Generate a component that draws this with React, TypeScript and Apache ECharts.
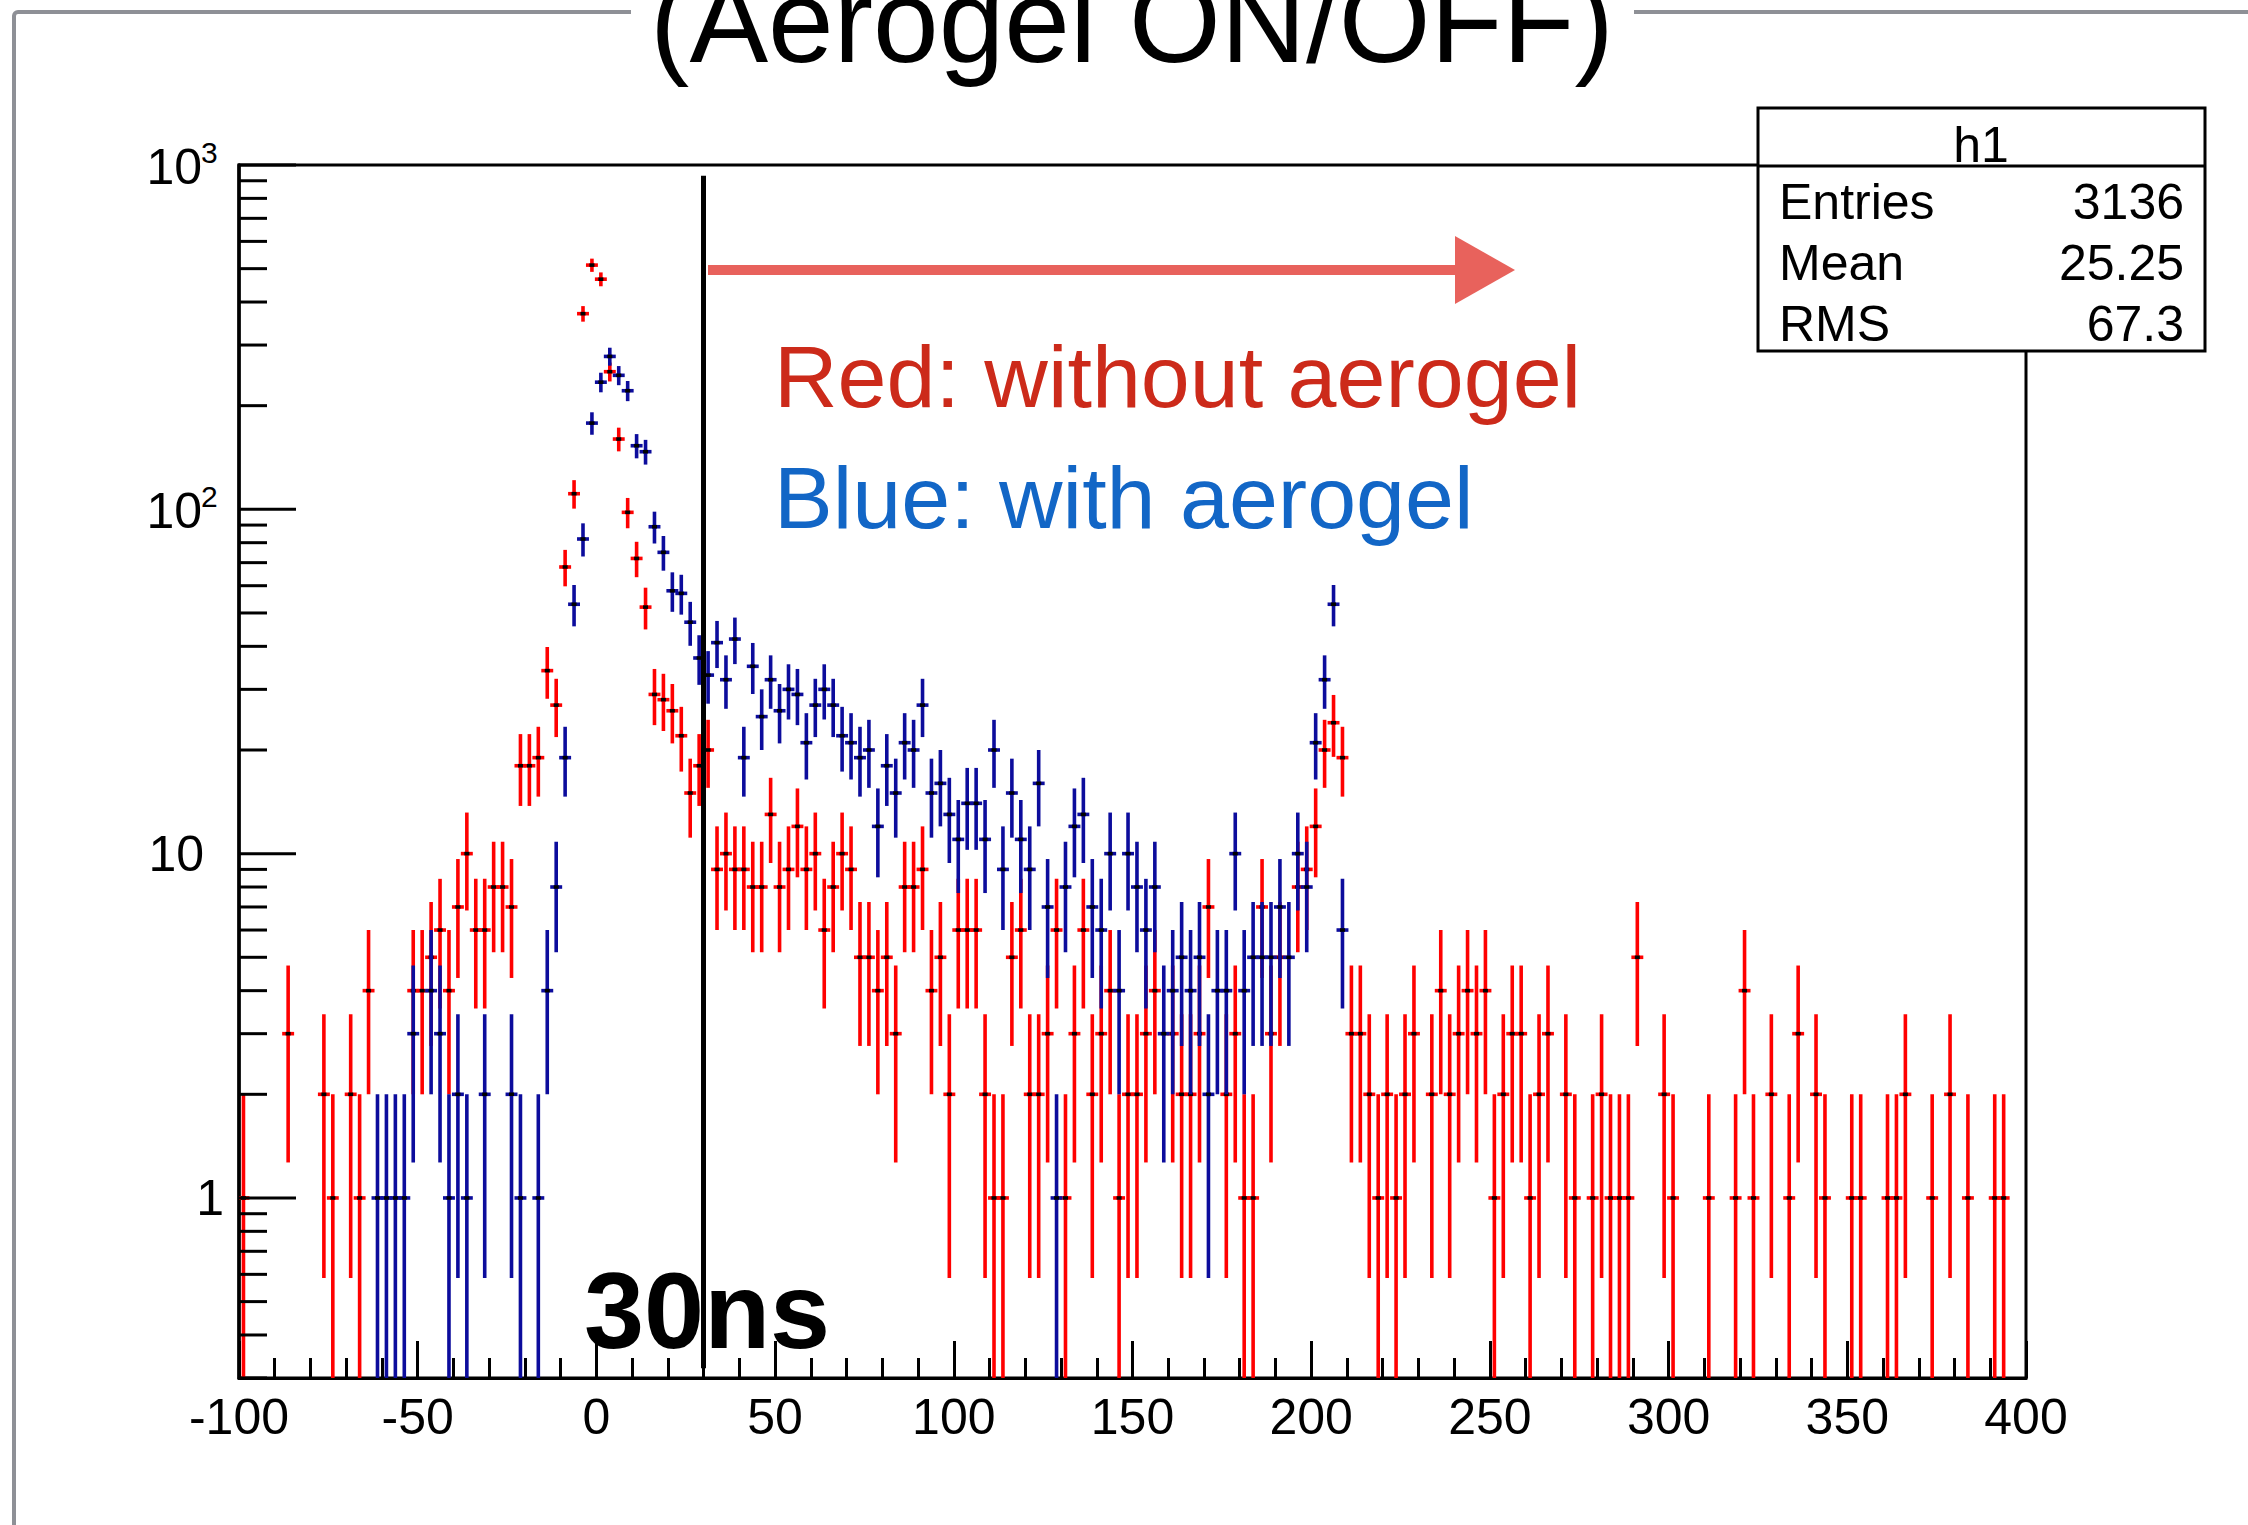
import React, { useEffect, useRef } from 'react';
import * as echarts from 'echarts';

// Histogram binning: 200 bins of 2.5 ns between -100 and 400 ns
const X_MIN = -100;
const X_MAX = 400;
const BIN_WIDTH = 2.5;
const Y_MIN = 0.3;
const Y_MAX = 1000;
const CUT_NS = 30;

// Counts per bin, without aerogel (h1)
const redCounts = [
  1, 0, 0, 0, 0, 3, 0, 0, 0, 2, 1, 0, 2, 1, 4, 0, 0, 0, 0, 4,
  4, 5, 6, 4, 7, 10, 6, 6, 8, 8, 7, 18, 18, 19, 34, 27, 68, 111, 370, 512,
  466, 251, 160, 98, 72, 52, 29, 28, 26, 22, 15, 18, 20, 9, 10, 9, 9, 8, 8, 13,
  8, 9, 12, 9, 10, 6, 8, 10, 9, 5, 5, 4, 5, 3, 8, 8, 9, 4, 5, 2,
  6, 6, 6, 2, 1, 1, 5, 6, 2, 2, 3, 6, 1, 3, 6, 2, 3, 4, 1, 2,
  2, 3, 4, 0, 3, 2, 2, 3, 7, 0, 2, 3, 1, 1, 7, 3, 5, 0, 8, 9,
  12, 20, 24, 19, 3, 3, 2, 1, 2, 1, 2, 3, 0, 2, 4, 2, 3, 4, 3, 4,
  1, 2, 3, 3, 1, 2, 3, 0, 2, 1, 0, 1, 2, 1, 1, 1, 5, 0, 0, 2,
  1, 0, 0, 0, 1, 0, 0, 1, 4, 1, 0, 2, 0, 1, 3, 0, 2, 1, 0, 0,
  1, 1, 0, 0, 1, 1, 2, 0, 0, 1, 0, 2, 0, 1, 0, 0, 1, 1, 0, 0,
];

// Counts per bin, with aerogel
const blueCounts = [
  0, 0, 0, 0, 0, 0, 0, 0, 0, 0, 0, 0, 0, 0, 0, 1, 1, 1, 1, 3,
  0, 4, 3, 1, 2, 1, 0, 2, 0, 0, 2, 1, 0, 1, 4, 8, 19, 53, 82, 178,
  234, 278, 245, 221, 153, 147, 89, 75, 58, 57, 47, 37, 33, 41, 32, 42, 19, 35, 25, 32,
  26, 30, 29, 21, 27, 30, 27, 22, 21, 19, 20, 12, 18, 15, 21, 20, 27, 15, 16, 13,
  11, 14, 14, 11, 20, 9, 15, 11, 9, 16, 7, 1, 8, 12, 13, 7, 6, 10, 4, 10,
  8, 6, 8, 3, 4, 5, 4, 5, 2, 4, 4, 10, 4, 5, 5, 5, 7, 5, 10, 8,
  21, 32, 53, 6, 0, 0, 0, 0, 0, 0, 0, 0, 0, 0, 0, 0, 0, 0, 0, 0,
  0, 0, 0, 0, 0, 0, 0, 0, 0, 0, 0, 0, 0, 0, 0, 0, 0, 0, 0, 0,
  0, 0, 0, 0, 0, 0, 0, 0, 0, 0, 0, 0, 0, 0, 0, 0, 0, 0, 0, 0,
  0, 0, 0, 0, 0, 0, 0, 0, 0, 0, 0, 0, 0, 0, 0, 0, 0, 0, 0, 0,
];

// Log-axis labels: base text and exponent
const yLabelValues = [1, 10, 100, 1000];
const yLabelBases = ['1', '10', '10', '10'];
const yLabelExps = ['', '', '2', '3'];

// Stats box rows
const statNames = ['Entries', 'Mean', 'RMS'];
const statValues = ['3136', '25.25', '67.3'];

const FONT = '"Liberation Sans", Arial, Helvetica, sans-serif';
const RED = '#ff0000';
const BLUE = '#0c0c9c';
const BAR_WIDTH = 3.6;

const binCenter = (i: number) => X_MIN + BIN_WIDTH * (i + 0.5);
const toPoints = (counts: number[]) =>
  counts.map((n, i) => [binCenter(i), n]).filter((p) => p[1] > 0);

// Major ticks at every decade, minor ticks at 2..9 times each decade
const yMajorTicks = [1, 10, 100, 1000];
const yMinorTicks: number[] = [];
for (let d = 0.1; d < Y_MAX; d *= 10) {
  for (let k = 2; k <= 9; k++) {
    const v = +(k * d).toPrecision(3);
    if (v >= Y_MIN - 1e-9 && v < Y_MAX) yMinorTicks.push(v);
  }
}

function errorBarSeries(name: string, counts: number[], color: string) {
  return {
    type: 'custom',
    name,
    data: toPoints(counts),
    encode: { x: 0, y: 1 },
    clip: true,
    silent: true,
    renderItem: (_params: any, api: any) => {
      const t = api.value(0) as number;
      const n = api.value(1) as number;
      const e = Math.sqrt(n);
      const c = api.coord([t, n]);
      const top = api.coord([t, n + e])[1];
      const bot = api.coord([t, Math.max(n - e, Y_MIN)])[1];
      const xl = api.coord([t - BIN_WIDTH / 2, n])[0];
      const xr = api.coord([t + BIN_WIDTH / 2, n])[0];
      return {
        type: 'group',
        children: [
          {
            type: 'line',
            shape: { x1: c[0], y1: top, x2: c[0], y2: bot },
            style: { stroke: color, lineWidth: BAR_WIDTH },
          },
          {
            type: 'line',
            shape: { x1: xl - 1.5, y1: c[1], x2: xr + 1.5, y2: c[1] },
            style: { stroke: color, lineWidth: BAR_WIDTH },
          },
          {
            type: 'rect',
            shape: { x: c[0] - 2.5, y: c[1] - 1.8, width: 5, height: 3.6 },
            style: { fill: '#000' },
          },
        ],
      };
    },
  };
}

const midY = (baseline: number, size: number) => baseline - 0.3465 * size;

export default function App() {
  const ref = useRef<HTMLDivElement>(null);

  useEffect(() => {
    if (!ref.current) return;
    const chart = echarts.init(ref.current, undefined, { renderer: 'svg' });

    const option: any = {
      animation: false,
      backgroundColor: '#ffffff',
      grid: {
        left: 239,
        right: 222,
        top: 165,
        bottom: 147,
        show: true,
        borderColor: '#000',
        borderWidth: 3,
        backgroundColor: 'transparent',
        outerBoundsMode: 'none',
      },
      xAxis: {
        type: 'value',
        min: X_MIN,
        max: X_MAX,
        interval: 50,
        axisLine: { show: true, onZero: false, lineStyle: { color: '#000', width: 3 } },
        axisTick: { show: true, inside: true, length: 37, lineStyle: { color: '#000', width: 3 } },
        minorTick: { show: true, splitNumber: 5, length: 20, lineStyle: { color: '#000', width: 3 } },
        axisLabel: {
          fontSize: 50,
          fontFamily: FONT,
          color: '#000',
          margin: 14,
          showMinLabel: true,
          showMaxLabel: true,
        },
        splitLine: { show: false },
      },
      yAxis: {
        type: 'log',
        logBase: 10,
        min: Y_MIN,
        max: Y_MAX,
        axisLine: { show: true, onZero: false, lineStyle: { color: '#000', width: 3.5 } },
        axisTick: { show: false },
        minorTick: { show: false },
        axisLabel: { show: false },
        splitLine: { show: false },
      },
      series: [
        errorBarSeries('without aerogel', redCounts, RED),
        errorBarSeries('with aerogel', blueCounts, BLUE),
        {
          type: 'custom',
          name: 'yTicks',
          silent: true,
          clip: false,
          z: 5,
          data: [
            ...yMajorTicks.map((v) => [X_MIN, v, 1]),
            ...yMinorTicks.map((v) => [X_MIN, v, 0]),
          ],
          encode: { x: 0, y: 1 },
          renderItem: (_p: any, api: any) => {
            const p = api.coord([api.value(0), api.value(1)]);
            const len = api.value(2) ? 57 : 28;
            return {
              type: 'line',
              shape: { x1: p[0], y1: p[1], x2: p[0] + len, y2: p[1] },
              style: { stroke: '#000', lineWidth: 3 },
            };
          },
        },
        {
          type: 'custom',
          name: 'yLabels',
          silent: true,
          clip: false,
          z: 5,
          data: yLabelValues.map((v, i) => [X_MIN, v, i]),
          encode: { x: 0, y: 1 },
          renderItem: (_p: any, api: any) => {
            const idx = api.value(2) as number;
            const p = api.coord([api.value(0), api.value(1)]);
            const base = yLabelBases[idx];
            const exp = yLabelExps[idx];
            const children: any[] = [];
            if (exp) {
              children.push({
                type: 'text',
                x: p[0] - 37,
                y: p[1] + 2,
                style: { text: base, fontSize: 50, fontFamily: FONT, fill: '#000', align: 'right', verticalAlign: 'middle' },
              });
              children.push({
                type: 'text',
                x: p[0] - 38,
                y: p[1] - 13,
                style: { text: exp, fontSize: 30, fontFamily: FONT, fill: '#000', align: 'left', verticalAlign: 'middle' },
              });
            } else {
              children.push({
                type: 'text',
                x: p[0] - (base.length === 1 ? 15 : 35),
                y: p[1],
                style: { text: base, fontSize: 50, fontFamily: FONT, fill: '#000', align: 'right', verticalAlign: 'middle' },
              });
            }
            return { type: 'group', children };
          },
        },
        {
          type: 'line',
          name: 'cut',
          data: [],
          silent: true,
          z: 8,
          markLine: {
            silent: true,
            symbol: ['none', 'none'],
            label: { show: false },
            lineStyle: { color: '#000', width: 5, type: 'solid' },
            data: [[{ coord: [CUT_NS, 930] }, { coord: [CUT_NS, 0.32] }]],
          },
        },
      ],
      graphic: [
        // slide frame
        {
          type: 'rect',
          z: 0,
          silent: true,
          shape: { x: 14, y: 12, width: 2400, height: 1700, r: 4 },
          style: { fill: 'none', stroke: '#8e9096', lineWidth: 4 },
        },
        {
          type: 'rect',
          z: 1,
          silent: true,
          shape: { x: 631, y: 0, width: 1003, height: 40 },
          style: { fill: '#fff' },
        },
        {
          type: 'text',
          z: 2,
          silent: true,
          x: 1132,
          y: midY(62, 118),
          style: { text: '(Aerogel ON/OFF)', fontSize: 118, fontFamily: FONT, fill: '#000', align: 'center', verticalAlign: 'middle' },
        },
        // stats box
        {
          type: 'group',
          z: 50,
          silent: true,
          children: [
            {
              type: 'rect',
              shape: { x: 1758, y: 108, width: 447, height: 243 },
              style: { fill: '#fff', stroke: '#000', lineWidth: 3 },
            },
            {
              type: 'line',
              shape: { x1: 1758, y1: 166, x2: 2205, y2: 166 },
              style: { stroke: '#000', lineWidth: 3 },
            },
            {
              type: 'text',
              x: 1981,
              y: midY(162, 50),
              style: { text: 'h1', fontSize: 50, fontFamily: FONT, fill: '#000', align: 'center', verticalAlign: 'middle' },
            },
            ...statNames.map((s, i) => ({
              type: 'text',
              x: 1779,
              y: midY(219 + 61 * i, 50),
              style: { text: s, fontSize: 50, fontFamily: FONT, fill: '#000', align: 'left', verticalAlign: 'middle' },
            })),
            ...statValues.map((s, i) => ({
              type: 'text',
              x: 2184,
              y: midY(219 + 61 * i, 50),
              style: { text: s, fontSize: 50, fontFamily: FONT, fill: '#000', align: 'right', verticalAlign: 'middle' },
            })),
          ],
        },
        // arrow pointing past the cut
        {
          type: 'line',
          z: 40,
          silent: true,
          shape: { x1: 708, y1: 270, x2: 1462, y2: 270 },
          style: { stroke: '#e8625c', lineWidth: 10 },
        },
        {
          type: 'polygon',
          z: 40,
          silent: true,
          shape: { points: [[1455, 236], [1515, 270], [1455, 304]] },
          style: { fill: '#e8625c' },
        },
        {
          type: 'text',
          z: 40,
          silent: true,
          x: 774,
          y: midY(407, 88),
          style: { text: 'Red: without aerogel', fontSize: 88, fontFamily: FONT, fill: '#cc2a1a', align: 'left', verticalAlign: 'middle' },
        },
        {
          type: 'text',
          z: 40,
          silent: true,
          x: 774,
          y: midY(528, 88),
          style: { text: 'Blue: with aerogel', fontSize: 88, fontFamily: FONT, fill: '#1266c6', align: 'left', verticalAlign: 'middle' },
        },
        {
          type: 'text',
          z: 40,
          silent: true,
          x: 584,
          y: midY(1348, 108),
          style: { text: '30ns', fontSize: 108, fontFamily: FONT, fontWeight: 'bold', fill: '#000', align: 'left', verticalAlign: 'middle' },
        },
      ],
    };

    chart.setOption(option);
    return () => chart.dispose();
  }, []);

  return (
    <div
      ref={ref}
      style={{ position: 'fixed', left: 0, top: 0, width: 2248, height: 1525, background: '#fff' }}
    />
  );
}
